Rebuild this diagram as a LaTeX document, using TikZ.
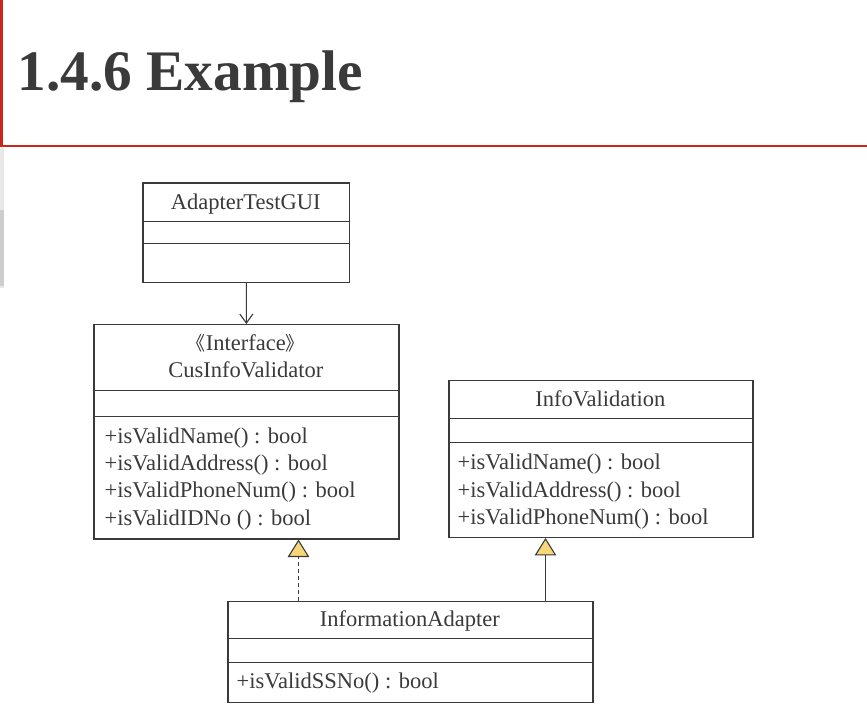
\documentclass[tikz,border=0pt]{standalone}
\usepackage{fontspec}
\setmainfont{Liberation Serif}
\newfontfamily\cjkfont{Noto Sans CJK SC}
\usetikzlibrary{arrows.meta}
\definecolor{ink}{RGB}{58,58,58}
\definecolor{barred}{RGB}{204,38,24}
\definecolor{triyellow}{RGB}{248,214,122}
\definecolor{stripA}{RGB}{232,232,232}
\definecolor{stripB}{RGB}{205,205,205}
\tikzset{
  classbox/.style={draw=ink, line width=1.2pt, rectangle, inner sep=0pt, anchor=north west},
  divider/.style={draw=ink, line width=1.1pt},
  txt/.style={text=ink, inner sep=0pt, font=\fontsize{22.5}{27}\selectfont},
  conn/.style={draw=ink, line width=1pt},
  gentip/.style={-{Triangle[length=17.5pt, width=21.5pt, fill=triyellow, line width=1.1pt]}},
}
\begin{document}
\begin{tikzpicture}[x=1pt,y=-1pt]
\useasboundingbox (0,0) rectangle (867,709);
\fill[white] (0,0) rectangle (867,709);
% header
\fill[barred] (0,0) rectangle (3.3,146);
\fill[barred] (0,144.5) rectangle (867,147.2);
\fill[stripA] (0,148) rectangle (4,288);
\fill[stripB] (0,210) rectangle (4,286);
\node[anchor=base west, inner sep=0pt, text=ink, font=\fontsize{57.3}{60}\selectfont\bfseries] (title) at (17.5,90.7) {1.4.6 Example};

% AdapterTestGUI
\node[classbox, minimum width=206.7pt, minimum height=99.4pt] (gui) at (142.3,182.3) {};
\draw[divider] (142.3,221.7) -- (349,221.7);
\draw[divider] (142.3,243.3) -- (349,243.3);
\node[txt, anchor=base] (guiname) at (245.7,209.5) {AdapterTestGUI};

% CusInfoValidator
\node[classbox, minimum width=305pt, minimum height=214.3pt] (cus) at (93.3,324) {};
\draw[divider] (93.3,390.3) -- (398.3,390.3);
\draw[divider] (93.3,416.7) -- (398.3,416.7);
\node[txt, anchor=base] (cusster) at (245.8,350.7) {{\cjkfont\fontsize{19}{27}\selectfont 《}Interface{\cjkfont\fontsize{19}{27}\selectfont 》}};
\node[txt, anchor=base] (cusname) at (245.8,377.3) {CusInfoValidator};
\node[txt, anchor=base west] (cm1) at (104.5,443.3) {+isValidName() : bool};
\node[txt, anchor=base west] (cm2) at (104.5,470.7) {+isValidAddress() : bool};
\node[txt, anchor=base west] (cm3) at (104.5,497.7) {+isValidPhoneNum() : bool};
\node[txt, anchor=base west] (cm4) at (104.5,525) {+isValidIDNo () : bool};

% InfoValidation
\node[classbox, minimum width=304pt, minimum height=156.7pt] (info) at (448.3,380) {};
\draw[divider] (448.3,418.3) -- (752.3,418.3);
\draw[divider] (448.3,442.7) -- (752.3,442.7);
\node[txt, anchor=base] (infoname) at (600.3,406) {InfoValidation};
\node[txt, anchor=base west] (im1) at (457.5,469.3) {+isValidName() : bool};
\node[txt, anchor=base west] (im2) at (457.5,497) {+isValidAddress() : bool};
\node[txt, anchor=base west] (im3) at (457.5,524.5) {+isValidPhoneNum() : bool};

% InformationAdapter
\node[classbox, minimum width=365pt, minimum height=101pt] (adapt) at (227.3,600.7) {};
\draw[divider] (227.3,638.7) -- (592.3,638.7);
\draw[divider] (227.3,662.7) -- (592.3,662.7);
\node[txt, anchor=base] (adaptname) at (409.8,626.7) {InformationAdapter};
\node[txt, anchor=base west] (am1) at (236.5,688.5) {+isValidSSNo() : bool};

% connectors
\draw[conn, -{Straight Barb[length=9pt, width=13pt, line width=1.1pt]}] (gui.south) -- (cus.north);
\coordinate (r1) at (298.5,600.7);
\draw[conn, dashed, dash pattern=on 4pt off 3pt, gentip] (r1) -- (r1 |- cus.south);
\coordinate (g1) at (545.5,600.7);
\draw[conn, gentip] (g1) -- (g1 |- info.south);
\end{tikzpicture}
\end{document}
